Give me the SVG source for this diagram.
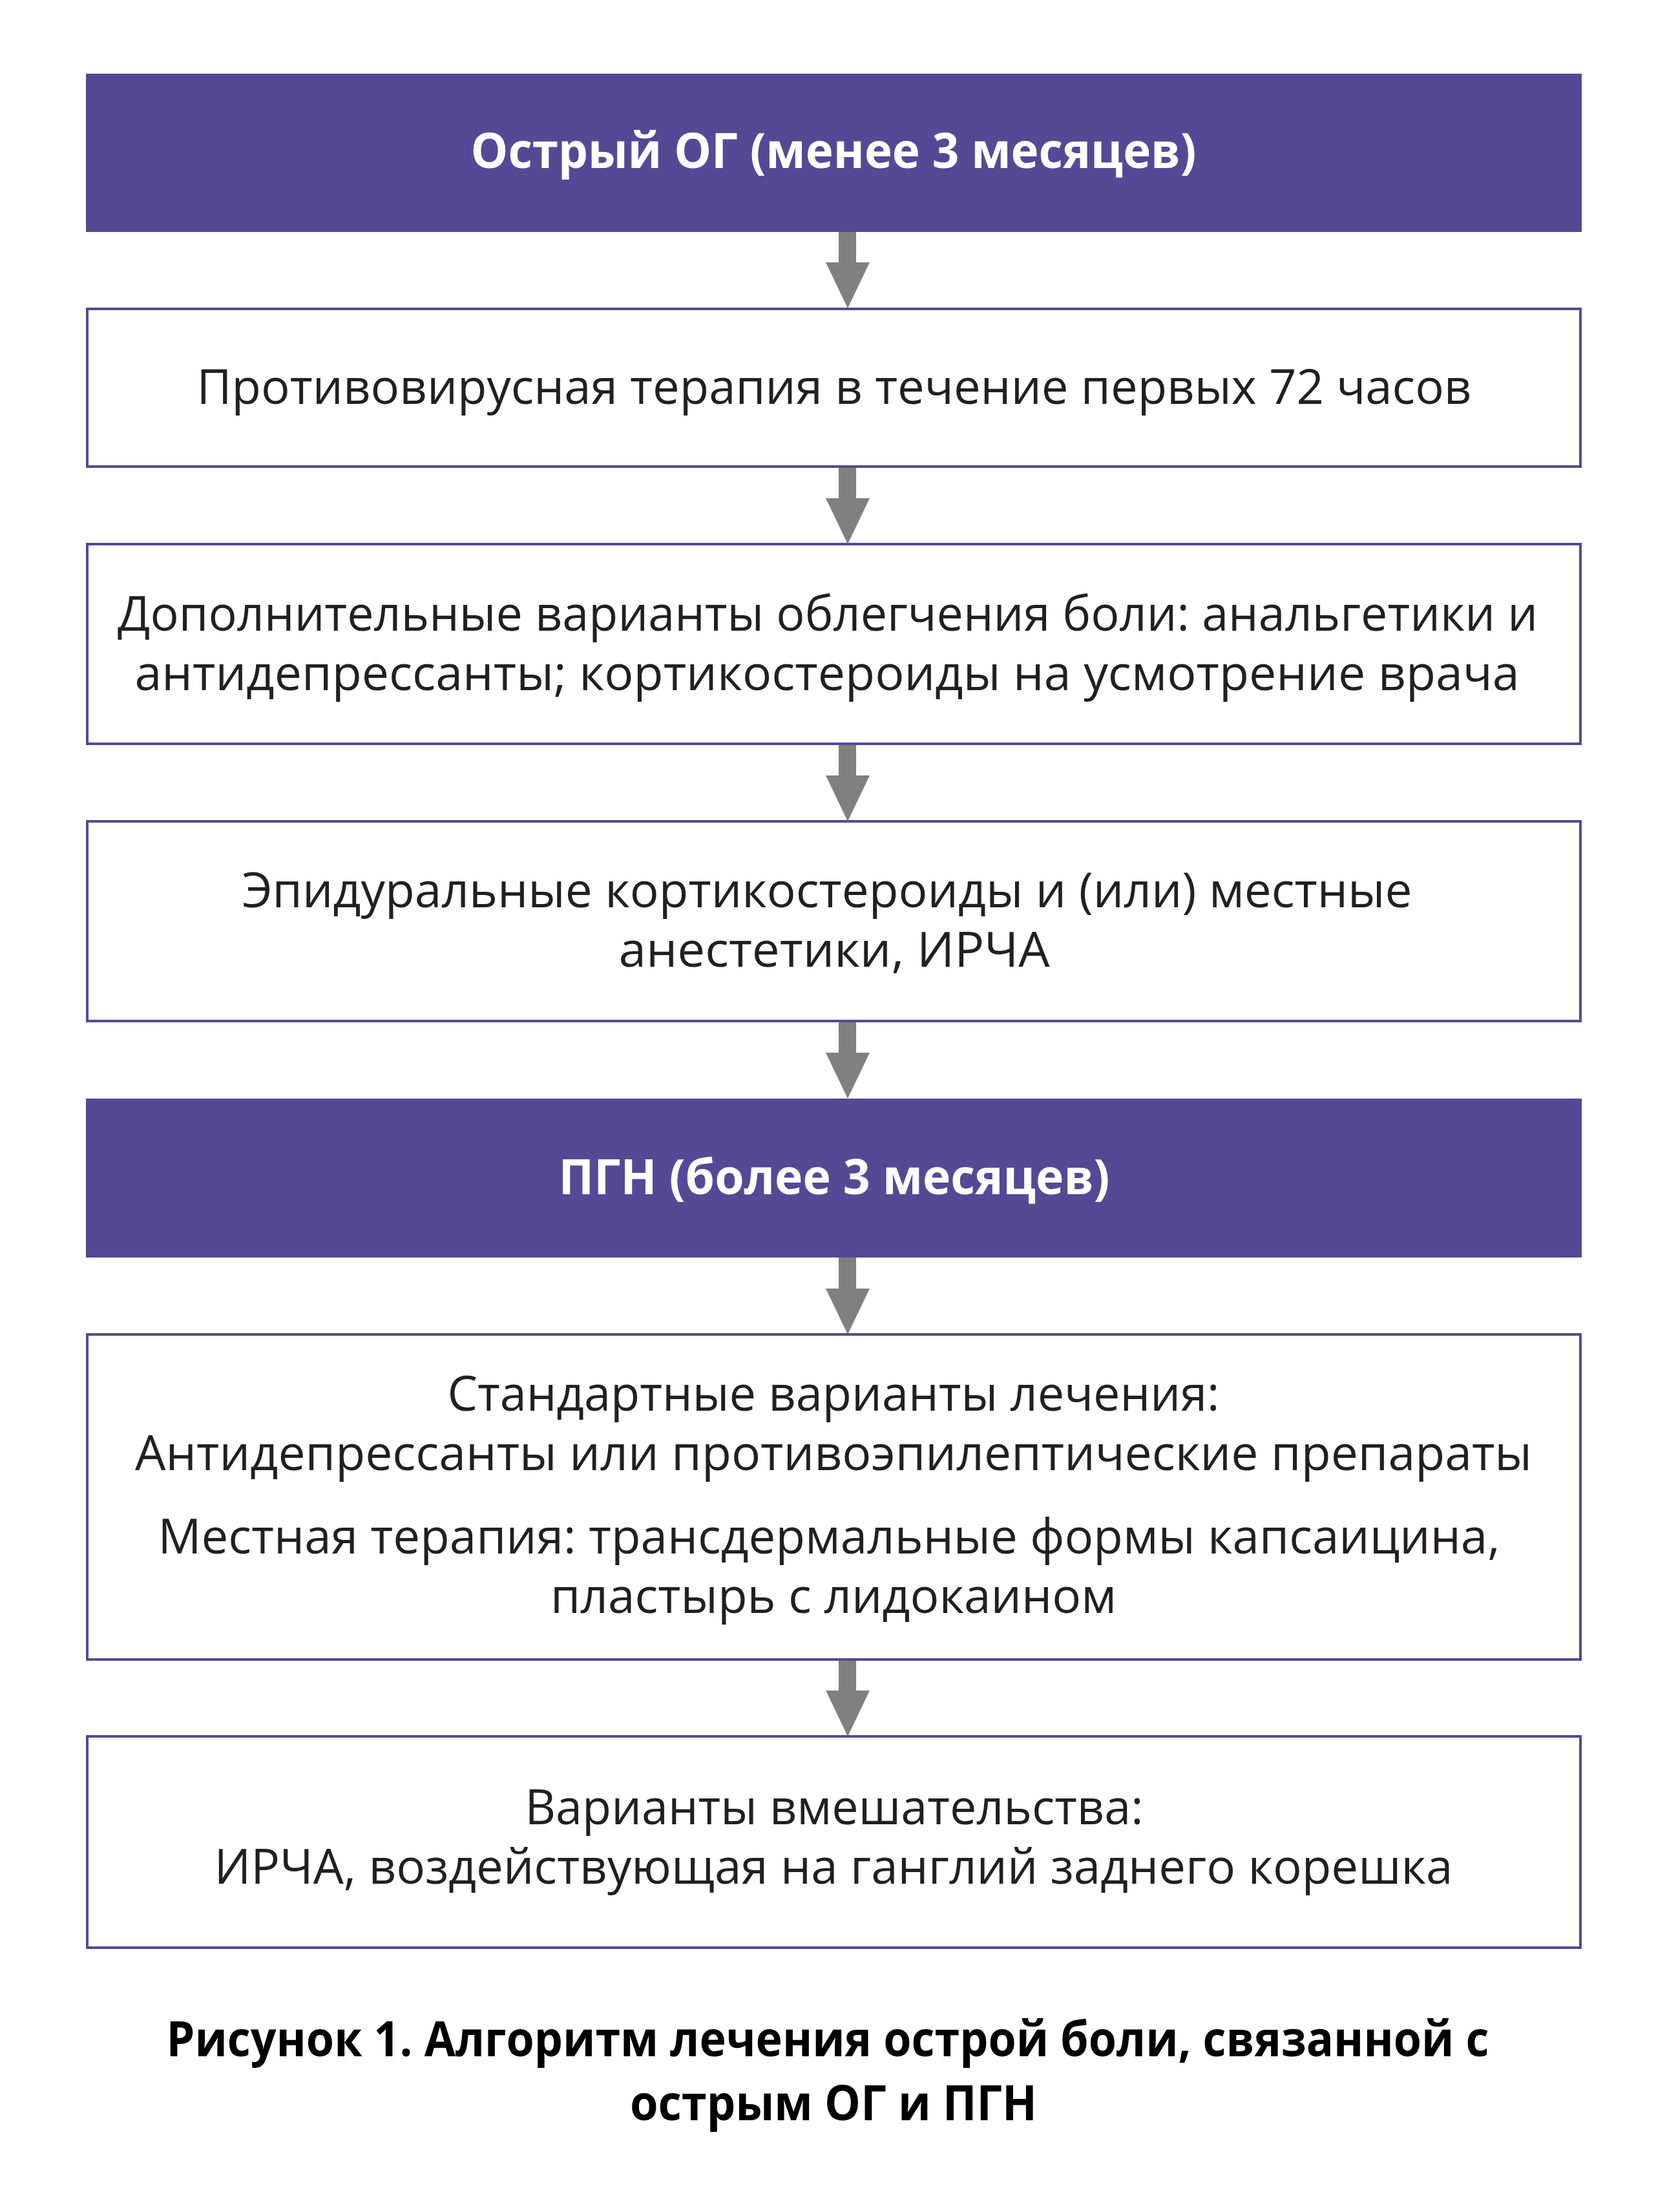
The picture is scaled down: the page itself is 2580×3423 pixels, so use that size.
<svg xmlns="http://www.w3.org/2000/svg" width="2580" height="3423" viewBox="0 0 2580 3423">
<defs>
<style>
.hdr{fill:#554996;}
.box{fill:#ffffff;stroke:#554996;stroke-width:4;}
.t{font-family:"Open Sans","Noto Sans","DejaVu Sans",sans-serif;font-size:75px;fill:#231f20;text-anchor:middle;}
.th{font-family:"Open Sans","Noto Sans","DejaVu Sans",sans-serif;font-size:75px;font-weight:700;fill:#ffffff;text-anchor:middle;}
.cap{font-family:"Open Sans","Noto Sans","DejaVu Sans",sans-serif;font-size:75px;font-weight:700;fill:#000000;text-anchor:middle;}
.arr{fill:#808080;}
</style>
</defs>
<rect width="2580" height="3423" fill="#ffffff"/>
<g id="connectors">
<path class="arr" d="M1298,359 H1325 V406 H1346 L1312,477 L1278,406 H1298 Z"/>
<path class="arr" d="M1298,722 H1325 V771 H1346 L1312,842 L1278,771 H1298 Z"/>
<path class="arr" d="M1298,1151 H1325 V1200 H1346 L1312,1271 L1278,1200 H1298 Z"/>
<path class="arr" d="M1298,1580 H1325 V1629 H1346 L1312,1700 L1278,1629 H1298 Z"/>
<path class="arr" d="M1298,1946 H1325 V1994 H1346 L1312,2065 L1278,1994 H1298 Z"/>
<path class="arr" d="M1298,2568 H1325 V2616 H1346 L1312,2687 L1278,2616 H1298 Z"/>
</g>
<g id="node-acute">
<rect class="hdr" x="133" y="114" width="2315" height="245"/>
<text class="th" x="1290" y="260" textLength="1123" lengthAdjust="spacingAndGlyphs">Острый ОГ (менее 3 месяцев)</text>
</g>
<g id="node-antiviral">
<rect class="box" x="135" y="478" width="2311" height="244"/>
<text class="t" x="1291" y="625" textLength="1973" lengthAdjust="spacingAndGlyphs">Противовирусная терапия в течение первых 72 часов</text>
</g>
<g id="node-additional">
<rect class="box" x="135" y="842" width="2311" height="309"/>
<text class="t" x="1281" y="976" textLength="2198" lengthAdjust="spacingAndGlyphs">Дополнительные варианты облегчения боли: анальгетики и</text>
<text class="t" x="1280" y="1068" textLength="2143" lengthAdjust="spacingAndGlyphs">антидепрессанты; кортикостероиды на усмотрение врача</text>
</g>
<g id="node-epidural">
<rect class="box" x="135" y="1271" width="2311" height="309"/>
<text class="t" x="1280" y="1404" textLength="1811" lengthAdjust="spacingAndGlyphs">Эпидуральные кортикостероиды и (или) местные</text>
<text class="t" x="1291" y="1496" textLength="667" lengthAdjust="spacingAndGlyphs">анестетики, ИРЧА</text>
</g>
<g id="node-phn">
<rect class="hdr" x="133" y="1700" width="2315" height="246"/>
<text class="th" x="1291" y="1848" textLength="853" lengthAdjust="spacingAndGlyphs">ПГН (более 3 месяцев)</text>
</g>
<g id="node-standard">
<rect class="box" x="135" y="2065" width="2311" height="503"/>
<text class="t" x="1290" y="2183" textLength="1195" lengthAdjust="spacingAndGlyphs">Стандартные варианты лечения:</text>
<text class="t" x="1290" y="2275" textLength="2162" lengthAdjust="spacingAndGlyphs">Антидепрессанты или противоэпилептические препараты</text>
<text class="t" x="1283" y="2404" textLength="2077" lengthAdjust="spacingAndGlyphs">Местная терапия: трансдермальные формы капсаицина,</text>
<text class="t" x="1290" y="2496" textLength="876" lengthAdjust="spacingAndGlyphs">пластырь с лидокаином</text>
</g>
<g id="node-intervention">
<rect class="box" x="135" y="2687" width="2311" height="327"/>
<text class="t" x="1291" y="2823" textLength="957" lengthAdjust="spacingAndGlyphs">Варианты вмешательства:</text>
<text class="t" x="1290" y="2915" textLength="1917" lengthAdjust="spacingAndGlyphs">ИРЧА, воздействующая на ганглий заднего корешка</text>
</g>
<g id="caption">
<text class="cap" x="1281" y="3182" textLength="2047" lengthAdjust="spacingAndGlyphs">Рисунок 1. Алгоритм лечения острой боли, связанной с</text>
<text class="cap" x="1290" y="3281" textLength="630" lengthAdjust="spacingAndGlyphs">острым ОГ и ПГН</text>
</g>
</svg>
